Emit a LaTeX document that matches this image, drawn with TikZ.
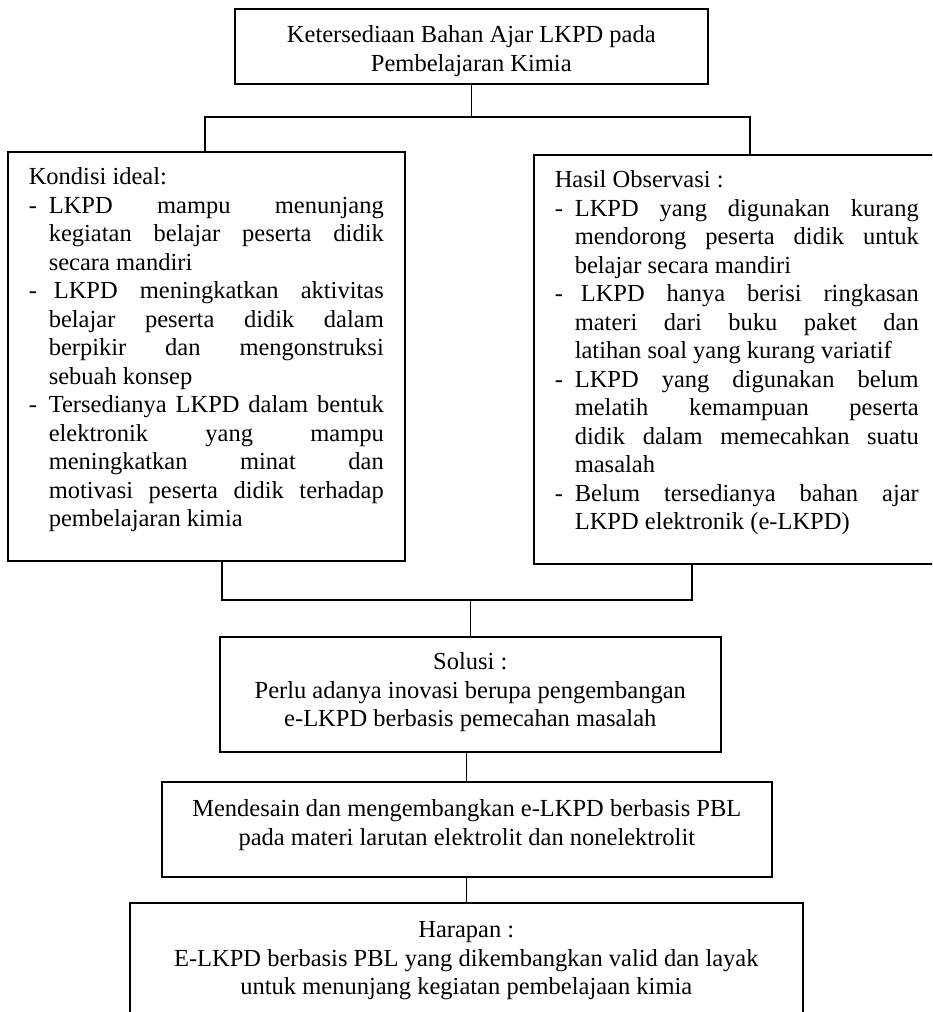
\documentclass[tikz,border=0pt]{standalone}
\usepackage{fontspec}
\setmainfont{Liberation Serif}

% box contents: width, height, text (top aligned)
\newcommand{\isikotak}[3]{\parbox[c][#2][t]{#1}{#3}}
\newcommand{\butir}{\par\hangindent=20pt\hangafter=1\noindent\makebox[20pt][l]{-}}

\begin{document}
\begin{tikzpicture}[
    x=1pt, y=-1pt,
    font=\fontsize{24.5pt}{28.5pt}\selectfont,
    kotak/.style={rectangle, draw, line width=1.6pt, inner sep=0pt, anchor=north west},
    daftar/.style={kotak, inner xsep=21pt},
    garis/.style={line width=1.2pt}
]
\useasboundingbox (0,0) rectangle (932,1012);
\clip (0,0) rectangle (932,1012);

% Blocks
\node[kotak] (atas) at (234,8) {\isikotak{473pt}{75pt}{\centering\rule{0pt}{34pt}Ketersediaan Bahan Ajar LKPD pada\\Pembelajaran Kimia}};

\node[daftar] (ideal) at (7,151) {\isikotak{355pt}{409pt}{\tolerance=10000\hbadness=10000\noindent\rule{0pt}{33pt}Kondisi ideal:
\butir LKPD mampu menunjang\linebreak kegiatan belajar peserta didik\linebreak secara mandiri
\butir\hspace{5pt}LKPD meningkatkan aktivitas\linebreak belajar peserta didik dalam\linebreak berpikir dan mengonstruksi\linebreak sebuah konsep
\butir Tersedianya LKPD dalam bentuk\linebreak elektronik yang mampu\linebreak meningkatkan minat dan\linebreak motivasi peserta didik terhadap\linebreak pembelajaran kimia}};

\node[daftar] (observasi) at (533,154) {\isikotak{364pt}{409pt}{\tolerance=10000\hbadness=10000\noindent\rule{0pt}{33pt}Hasil Observasi :
\butir LKPD yang digunakan kurang\linebreak mendorong peserta didik untuk\linebreak belajar secara mandiri
\butir\hspace{6pt}LKPD hanya berisi ringkasan\linebreak materi dari buku paket dan\linebreak latihan soal yang kurang variatif
\butir LKPD yang digunakan belum\linebreak melatih kemampuan peserta\linebreak didik dalam memecahkan suatu\linebreak masalah
\butir Belum tersedianya bahan ajar\linebreak LKPD elektronik (e-LKPD)}};

\node[kotak] (solusi) at (219,636) {\isikotak{501pt}{115pt}{\centering\rule{0pt}{33pt}Solusi :\\Perlu adanya inovasi berupa pengembangan\\e-LKPD berbasis pemecahan masalah}};

\node[kotak] (desain) at (161,781) {\isikotak{610pt}{95pt}{\centering\rule{0pt}{35pt}Mendesain dan mengembangkan e-LKPD berbasis PBL\\pada materi larutan elektrolit dan nonelektrolit}};

\node[kotak] (harapan) at (129,902) {\isikotak{673pt}{130pt}{\centering\rule{0pt}{35pt}Harapan :\\E-LKPD berbasis PBL yang dikembangkan valid dan layak\\untuk menunjang kegiatan pembelajaan kimia}};

% Junctions
\coordinate (cabangkiri) at (205,117);
\coordinate (cabangkanan) at (750,117);
\coordinate (gabungkiri) at (222,600);
\coordinate (gabungkanan) at (692,600);

% Split
\draw[garis] (atas.south) -- (atas.south |- cabangkiri);
\draw[garis] (ideal.north -| cabangkiri) -- (cabangkiri) -- (cabangkanan) -- (cabangkanan |- observasi.north);

% Merge
\draw[garis] (ideal.south -| gabungkiri) -- (gabungkiri) -- (gabungkanan) -- (gabungkanan |- observasi.south);
\draw[garis] (solusi.north |- gabungkiri) -- (solusi.north);

% Chain down
\draw[garis] (desain.north |- solusi.south) -- (desain.north);
\draw[garis] (desain.south) -- (desain.south |- harapan.north);

\end{tikzpicture}
\end{document}
